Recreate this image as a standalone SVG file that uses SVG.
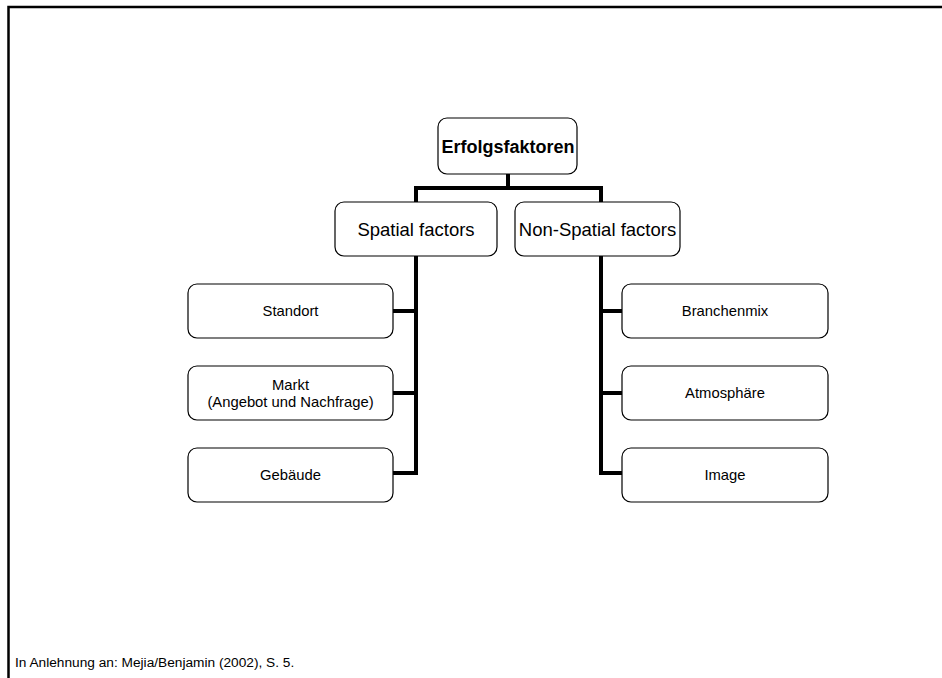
<svg xmlns="http://www.w3.org/2000/svg" width="942" height="678" viewBox="0 0 942 678">
  <style>
    .box { fill: #ffffff; stroke: #000000; stroke-width: 1.2; }
    .lbl { font-family: "Liberation Sans", Arial, sans-serif; fill: #000000; text-anchor: middle; }
    .small { font-size: 14.8px; }
    .mid { font-size: 18.5px; }
    .conn { fill: none; stroke: #000000; stroke-width: 4; stroke-linejoin: miter; stroke-linecap: butt; }
  </style>
  <rect width="942" height="678" fill="#ffffff"/>
  <!-- page frame -->
  <path d="M8.5,678 V7 H942" fill="none" stroke="#000000" stroke-width="2.5"/>

  <g id="connectors">
    <path class="conn" d="M508,174 V188"/>
    <path class="conn" d="M416,202 V188 H601 V202"/>
    <path class="conn" d="M416,256 V475"/>
    <path class="conn" d="M393,311 H418"/>
    <path class="conn" d="M393,393 H418"/>
    <path class="conn" d="M393,473 H418"/>
    <path class="conn" d="M601,256 V475"/>
    <path class="conn" d="M599,311 H622"/>
    <path class="conn" d="M599,393 H622"/>
    <path class="conn" d="M599,473 H622"/>
  </g>

  <g id="root">
    <rect class="box" x="438" y="118" width="139" height="56" rx="9"/>
    <text class="lbl" x="508" y="153" font-size="18" font-weight="bold">Erfolgsfaktoren</text>
  </g>
  <g id="spatial">
    <rect class="box" x="335" y="202" width="162" height="54" rx="9"/>
    <text class="lbl mid" x="416" y="236">Spatial factors</text>
  </g>
  <g id="nonspatial">
    <rect class="box" x="515" y="202" width="165" height="54" rx="9"/>
    <text class="lbl mid" x="597.5" y="236">Non-Spatial factors</text>
  </g>

  <g id="standort">
    <rect class="box" x="188" y="284" width="205" height="54" rx="9"/>
    <text class="lbl small" x="290.5" y="316">Standort</text>
  </g>
  <g id="markt">
    <rect class="box" x="188" y="366" width="205" height="54" rx="9"/>
    <text class="lbl small" x="290.5" y="390">Markt</text>
    <text class="lbl small" x="290.5" y="407">(Angebot und Nachfrage)</text>
  </g>
  <g id="gebaeude">
    <rect class="box" x="188" y="448" width="205" height="54" rx="9"/>
    <text class="lbl small" x="290.5" y="480">Gebäude</text>
  </g>

  <g id="branchenmix">
    <rect class="box" x="622" y="284" width="206" height="54" rx="9"/>
    <text class="lbl small" x="725" y="316">Branchenmix</text>
  </g>
  <g id="atmosphaere">
    <rect class="box" x="622" y="366" width="206" height="54" rx="9"/>
    <text class="lbl small" x="725" y="398">Atmosphäre</text>
  </g>
  <g id="image">
    <rect class="box" x="622" y="448" width="206" height="54" rx="9"/>
    <text class="lbl small" x="725" y="480">Image</text>
  </g>

  <text x="15" y="667" font-family="'Liberation Sans', Arial, sans-serif" font-size="13.7" fill="#000000">In Anlehnung an: Mejia/Benjamin (2002), S. 5.</text>
</svg>
